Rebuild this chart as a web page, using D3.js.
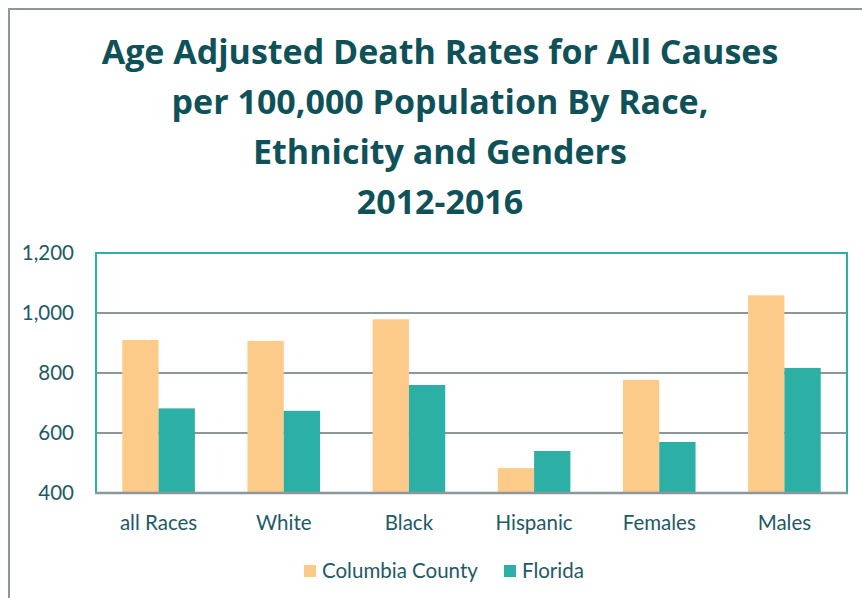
<!DOCTYPE html>
<html>
<head>
<meta charset="utf-8">
<script src="https://cdn.jsdelivr.net/npm/d3@7"></script>
<style>
  body { margin: 0; background: #fff; }
  svg { font-family: Lato, "Open Sans", sans-serif; }
</style>
</head>
<body>
<div id="chart"></div>
<script>
// data
var categories = ["all Races", "White", "Black", "Hispanic", "Females", "Males"];
var columbia = [910, 907, 979, 483, 777, 1059];
var florida = [682, 674, 760, 540, 570, 817];
var seriesNames = ["Columbia County", "Florida"];
var yTicks = [400, 600, 800, 1000, 1200];
var titleLines = ["Age Adjusted Death Rates for All Causes",
                  "per 100,000 Population By Race,",
                  "Ethnicity and Genders",
                  "2012-2016"];

var W = 862, H = 598;
var colors = ["#FDCB89", "#2CAFA4"];
var textCol = "#1D5A66";
var plot = {left: 96, right: 847, top: 253, bottom: 493};

var svg = d3.select("#chart").append("svg")
    .attr("width", W).attr("height", H);

// outer chart frame
svg.append("rect")
    .attr("x", 9).attr("y", 9)
    .attr("width", W + 10).attr("height", H + 10)
    .attr("fill", "none").attr("stroke", "#8C979B").attr("stroke-width", 2);

// title
svg.append("g").selectAll("text")
    .data(titleLines)
  .enter().append("text")
    .attr("x", 440)
    .attr("y", function(d, i) { return 64 + i * 50; })
    .attr("text-anchor", "middle")
    .attr("fill", "#0F5158")
    .attr("font-family", "'Open Sans', sans-serif")
    .attr("font-weight", "bold")
    .attr("font-size", 34)
    .text(function(d) { return d; });

var x0 = d3.scaleBand().domain(categories)
    .range([plot.left, plot.right]).paddingInner(0.42).paddingOuter(0.21);
var x1 = d3.scaleBand().domain(seriesNames).range([0, x0.bandwidth()]);
var y = d3.scaleLinear().domain([400, 1200]).range([plot.bottom, plot.top]);

// gridlines
svg.append("g").selectAll("line")
    .data(yTicks.slice(1, -1))
  .enter().append("line")
    .attr("x1", plot.left).attr("x2", plot.right)
    .attr("y1", function(d) { return y(d); })
    .attr("y2", function(d) { return y(d); })
    .attr("stroke", "#8C979B").attr("stroke-width", 2);

// bars
var rows = categories.map(function(c, i) { return {cat: c, vals: [columbia[i], florida[i]]}; });
var groups = svg.append("g").selectAll("g")
    .data(rows)
  .enter().append("g")
    .attr("transform", function(d) { return "translate(" + x0(d.cat) + ",0)"; });

groups.selectAll("rect")
    .data(function(d) { return d.vals.map(function(v, j) { return {s: seriesNames[j], v: v, j: j}; }); })
  .enter().append("rect")
    .attr("x", function(d) { return x1(d.s); })
    .attr("y", function(d) { return y(d.v); })
    .attr("width", x1.bandwidth())
    .attr("height", function(d) { return plot.bottom - y(d.v); })
    .attr("fill", function(d) { return colors[d.j]; });

// plot frame: teal on left, top, right; gray baseline
svg.append("path")
    .attr("d", "M" + plot.left + "," + plot.bottom + "V" + plot.top + "H" + plot.right + "V" + plot.bottom)
    .attr("fill", "none").attr("stroke", "#2CAFA4").attr("stroke-width", 2);
svg.append("line")
    .attr("x1", plot.left - 1).attr("x2", plot.right + 1)
    .attr("y1", plot.bottom).attr("y2", plot.bottom)
    .attr("stroke", "#8C979B").attr("stroke-width", 2.5);

// y axis labels
var fmt = d3.format(",");
svg.append("g").selectAll("text")
    .data(yTicks)
  .enter().append("text")
    .attr("x", 74)
    .attr("y", function(d) { return y(d); })
    .attr("dy", "0.35em")
    .attr("text-anchor", "end")
    .attr("fill", textCol)
    .attr("font-size", 20.5)
    .text(function(d) { return fmt(d); });

// x axis labels
svg.append("g").selectAll("text")
    .data(categories)
  .enter().append("text")
    .attr("x", function(d) { return x0(d) + x0.bandwidth() / 2; })
    .attr("y", 523)
    .attr("dy", "0.35em")
    .attr("text-anchor", "middle")
    .attr("fill", textCol)
    .attr("font-size", 20.5)
    .text(function(d) { return d; });

// legend
var legendX = [304, 504];
var legend = svg.append("g").selectAll("g")
    .data(seriesNames)
  .enter().append("g")
    .attr("transform", function(d, i) { return "translate(" + legendX[i] + ",571)"; });
legend.append("rect")
    .attr("x", 0).attr("y", -6).attr("width", 12).attr("height", 12)
    .attr("fill", function(d, i) { return colors[i]; });
legend.append("text")
    .attr("x", 18).attr("dy", "0.35em")
    .attr("fill", textCol)
    .attr("font-size", 20.5)
    .text(function(d) { return d; });
</script>
</body>
</html>
